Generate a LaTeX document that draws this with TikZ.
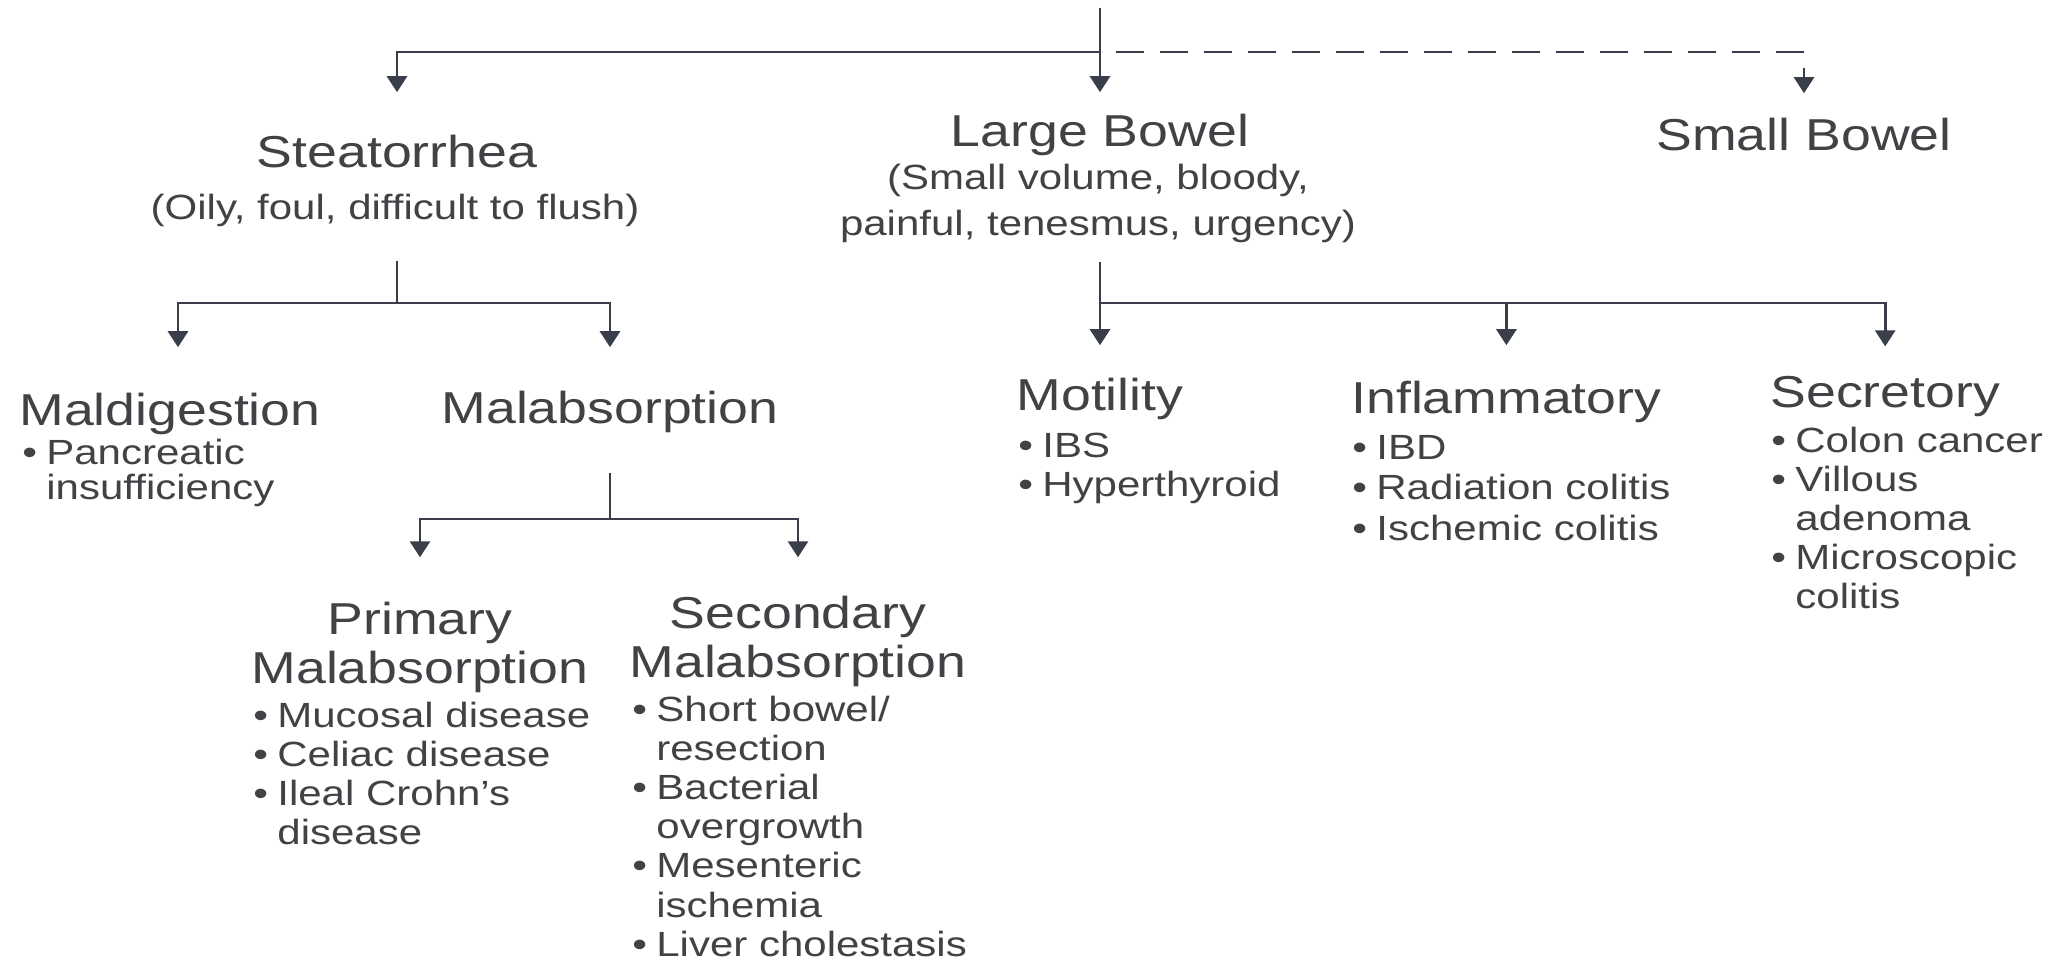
\documentclass[tikz,border=0pt]{standalone}
\usepackage{fontspec}
\usetikzlibrary{arrows.meta}
\newfontfamily\dgfont[FakeStretch=1.2]{Liberation Sans}
\definecolor{txt}{RGB}{66,66,70}
\definecolor{lnc}{RGB}{58,62,74}
\newcommand{\bitem}[1]{\makebox[12pt][l]{\textbullet}#1}
\newcommand{\citem}[1]{\hspace*{12pt}#1}
\begin{document}
\begin{tikzpicture}[x=0.5pt,y=-0.5pt,
  title/.style={font=\fontsize{22.35pt}{24.5pt}\dgfont, text=txt, inner sep=0pt, anchor=base},
  ltitle/.style={title, anchor=base west},
  sub/.style={font=\fontsize{17.5pt}{23pt}\dgfont, text=txt, inner sep=0pt, anchor=base},
  blist/.style={font=\fontsize{17.5pt}{19.6pt}\dgfont, text=txt, inner sep=0pt, anchor=base west},
  ln/.style={draw=lnc, line width=1.4pt},
  arr/.style={ln, -{Triangle[width=10pt,length=8pt]}},
  dsh/.style={dash pattern=on 14pt off 8pt, dash phase=14pt},
]
\useasboundingbox[fill=white] (0,0) rectangle (2054,962);

% headings
\node[title] (steat) at (397,168) {Steatorrhea};
\node[sub] (steatsub) at (395,220) {(Oily, foul, difficult to flush)};
\node[title] (lb) at (1100,147) {Large Bowel};
\node[sub] (lbsub) at (1098,190) {\begin{tabular}[t]{@{}c@{}}(Small volume, bloody,\\ painful, tenesmus, urgency)\end{tabular}};
\node[title] (sb) at (1804,151) {Small Bowel};

\node[ltitle] (maldig) at (19,425) {Maldigestion};
\node[blist, font=\fontsize{17.5pt}{17pt}\dgfont] (maldiglist) at (22,464) {\begin{tabular}[t]{@{}l@{}}\bitem{Pancreatic}\\ \citem{insufficiency}\end{tabular}};
\node[title] (malab) at (610,423) {Malabsorption};

\node[title] (prim) at (420,634) {\begin{tabular}[t]{@{}c@{}}Primary\\ Malabsorption\end{tabular}};
\node[blist] (primlist) at (253,727) {\begin{tabular}[t]{@{}l@{}}\bitem{Mucosal disease}\\ \bitem{Celiac disease}\\ \bitem{Ileal Crohn’s}\\ \citem{disease}\end{tabular}};
\node[title] (sec) at (798,628) {\begin{tabular}[t]{@{}c@{}}Secondary\\ Malabsorption\end{tabular}};
\node[blist] (seclist) at (632,721) {\begin{tabular}[t]{@{}l@{}}\bitem{Short bowel/}\\ \citem{resection}\\ \bitem{Bacterial}\\ \citem{overgrowth}\\ \bitem{Mesenteric}\\ \citem{ischemia}\\ \bitem{Liver cholestasis}\end{tabular}};

\node[title] (mot) at (1100,410) {Motility};
\node[blist] (motlist) at (1018,457) {\begin{tabular}[t]{@{}l@{}}\bitem{IBS}\\ \bitem{Hyperthyroid}\end{tabular}};
\node[ltitle] (infl) at (1351,414) {Inflammatory};
\node[blist, font=\fontsize{17.5pt}{20.3pt}\dgfont] (infllist) at (1352,459) {\begin{tabular}[t]{@{}l@{}}\bitem{IBD}\\ \bitem{Radiation colitis}\\ \bitem{Ischemic colitis}\end{tabular}};
\node[ltitle] (secr) at (1770,408) {Secretory};
\node[blist] (secrlist) at (1771,452) {\begin{tabular}[t]{@{}l@{}}\bitem{Colon cancer}\\ \bitem{Villous}\\ \citem{adenoma}\\ \bitem{Microscopic}\\ \citem{colitis}\end{tabular}};

% junctions
\coordinate (top) at (1100,8);
\coordinate (j0) at (1100,52);
\coordinate (js) at (397,303);
\coordinate (jm) at (610,519);
\coordinate (jl) at (1100,303);

% connectors
\draw[arr, shorten >=11pt] (top) -- (lb.north);
\draw[arr, shorten >=21.5pt] (j0) -| (steat.north);
\draw[arr, dsh, shorten >=12.5pt] (j0) -| (sb.north);

\draw[ln, shorten <=16.5pt] (steatsub.south -| js) -- (js);
\draw[arr, shorten >=22.5pt] (js) -| ([xshift=4pt]maldig.north);
\draw[arr, shorten >=21.5pt] (js) -| (malab.north);

\draw[ln, shorten <=20pt] (malab.south) -- (jm);
\draw[arr, shorten >=21pt] (jm) -| (prim.north);
\draw[arr, shorten >=18pt] (jm) -| (sec.north);

\draw[ln, shorten <=6pt] (lbsub.south -| jl) -- (jl);
\draw[arr, shorten >=16pt] (jl) -- (jl |- mot.north);
\draw[arr, shorten >=18pt] (jl) -| (infl.north);
\draw[arr, shorten >=15pt] (jl) -| (secr.north);
\end{tikzpicture}
\end{document}
